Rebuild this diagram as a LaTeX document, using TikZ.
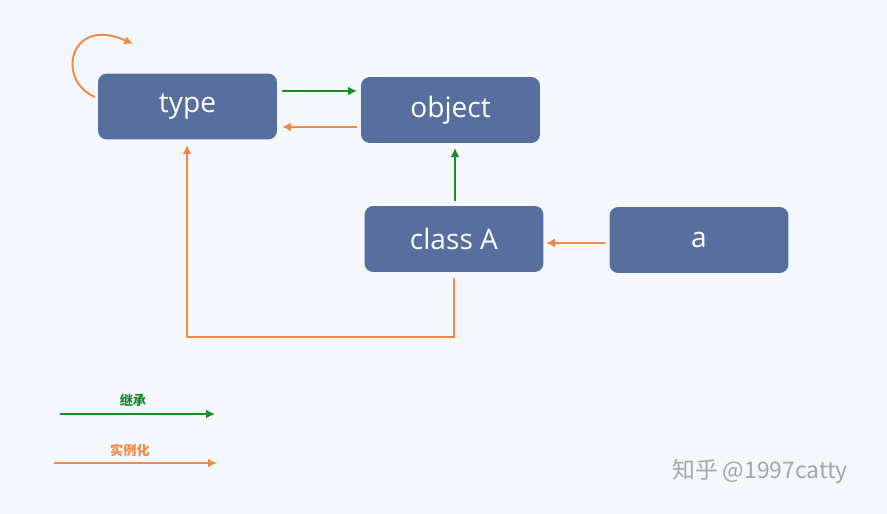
\documentclass[tikz,border=0pt]{standalone}
\usepackage{fontspec}
\setmainfont{Open Sans}
\newfontfamily\cjk{Noto Sans CJK SC}
\usetikzlibrary{arrows.meta}
\definecolor{boxblue}{HTML}{566F9E}
\definecolor{inhgreen}{HTML}{1A8A2A}
\definecolor{instorange}{HTML}{F08A46}
\definecolor{bgcol}{HTML}{F4F8FC}
\tikzset{
    every node/.style={inner sep=0pt},
    box/.style={rectangle, rounded corners=5pt, fill=boxblue, text=white,
    	minimum width=3.58cm, minimum height=1.32cm, font=\fontsize{16}{18}\selectfont},
    inherit/.style={draw=inhgreen, line width=1.1pt, -{Latex[length=5pt,width=5pt]}},
    instance/.style={draw=instorange, line width=1.1pt, -{Latex[length=5pt,width=5pt]}}
}
\begin{document}
\begin{tikzpicture}[x=0.02cm, y=-0.02cm]
  \fill[bgcol] (0,0) rectangle (887,514);
  \useasboundingbox (0,0) rectangle (887,514);
  \node (type) [box] at (187.5,106.5) {type};
  \node (object) [box] at (450.5,110) {object};
  \node (classA) [box] at (454,239) {class A};
  \node (a) [box] at (699,240) {a};

  \draw[inherit] (282,91) -- (357,91);
  \draw[instance] (357,127) -- (282,127);
  \draw[inherit] (455,201) -- (455,148);
  \draw[instance] (605,243) -- (546,243);
  \draw[instance] (454,278) -- (454,337) -- (187,337) -- (187,145);
  \draw[instance] (95,97) .. controls (55,80) and (70,15) .. (133,44);

  \coordinate (g1) at (60,414); \coordinate (g2) at (215,414);
  \coordinate (o1) at (54,463); \coordinate (o2) at (217,463);
  \draw[inherit] (g1) -- (g2);
  \draw[instance] (o1) -- (o2);
  \node (inhlabel) [text=inhgreen, font=\cjk\bfseries\fontsize{7.5}{9}\selectfont] at (133,400) {继承};
  \node (instlabel) [text=instorange, font=\cjk\bfseries\fontsize{7.5}{9}\selectfont] at (130,450) {实例化};
  \node (mark) [text=gray!70, font=\cjk\fontsize{13}{15}\selectfont] at (760,472) {知乎 @1997catty};
\end{tikzpicture}
\end{document}
